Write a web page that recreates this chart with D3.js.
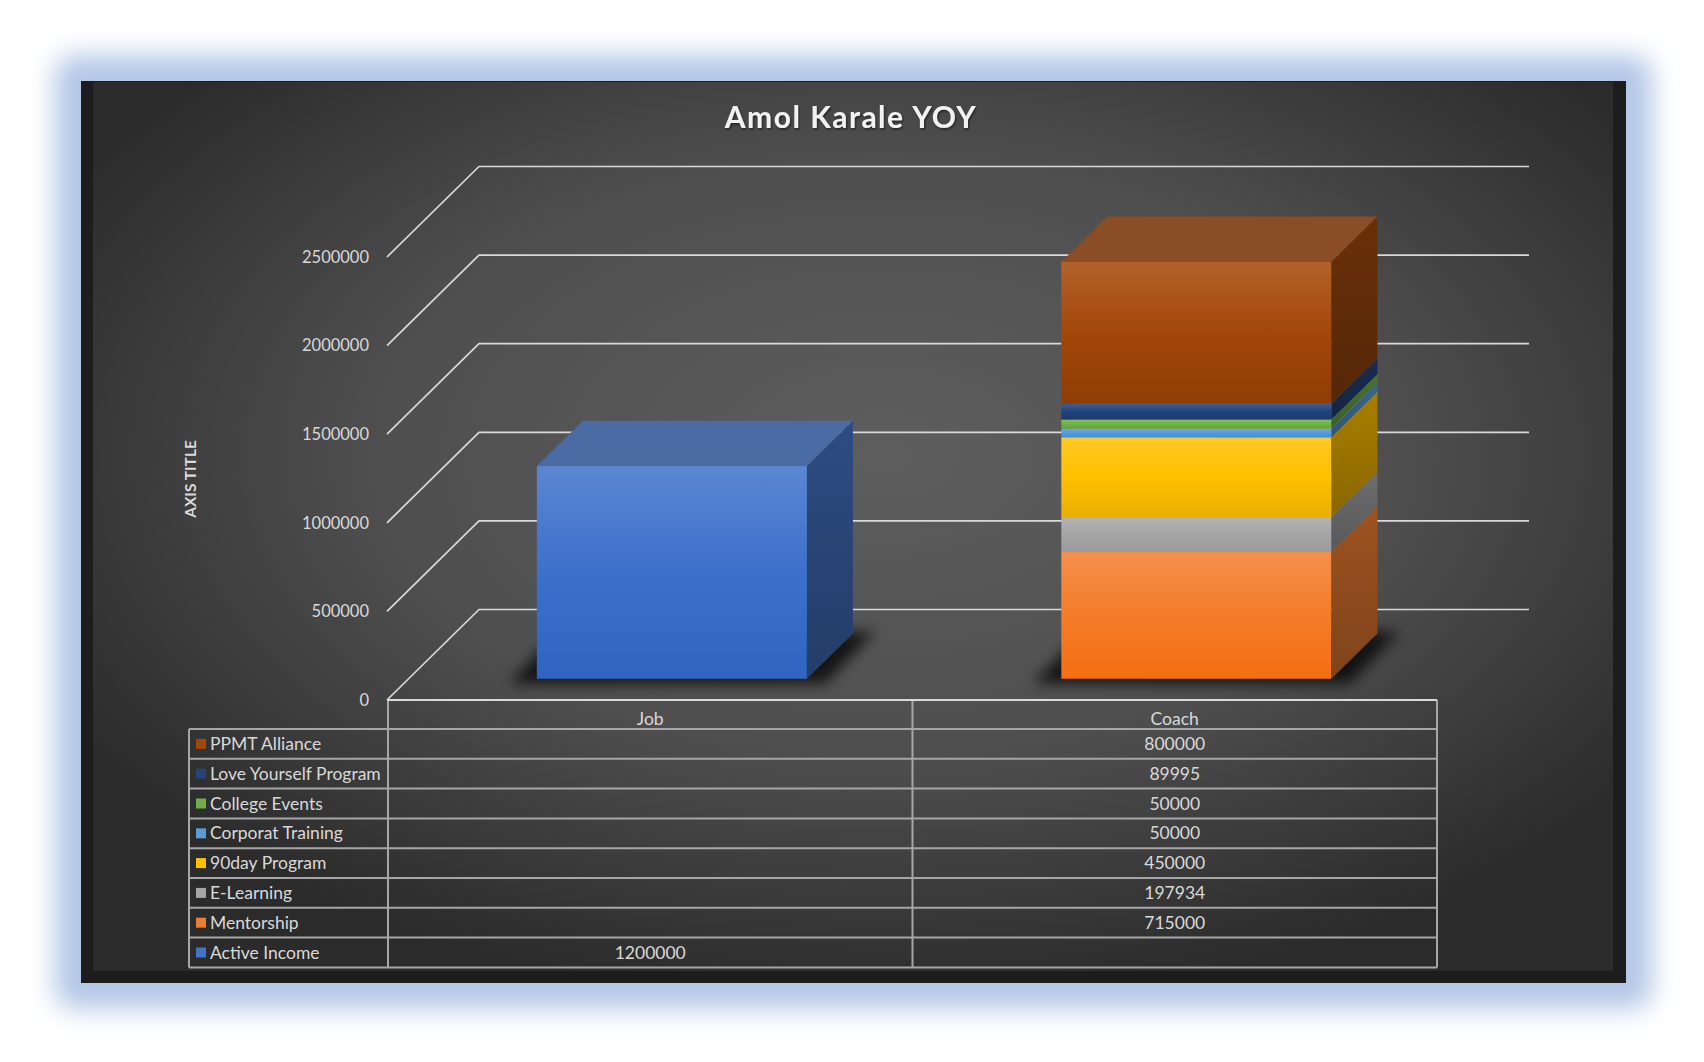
<!DOCTYPE html>
<html>
<head>
<meta charset="utf-8">
<script src="https://cdn.jsdelivr.net/npm/d3@7"></script>
<style>
  body { margin: 0; background: #ffffff; }
  svg { display: block; font-family: Lato, "Open Sans", sans-serif; }
</style>
</head>
<body>
<script>
var categories = ["Job", "Coach"];
var seriesNames = ["Active Income", "Mentorship", "E-Learning", "90day Program", "Corporat Training", "College Events", "Love Yourself Program", "PPMT Alliance"];
var jobValues = [1200000, null, null, null, null, null, null, null];
var coachValues = [null, 715000, 197934, 450000, 50000, 50000, 89995, 800000];
var seriesColors = ["#4472C4", "#ED7D31", "#A5A5A5", "#FFC000", "#5B9BD5", "#70AD47", "#264478", "#9E480E"];
var yTicks = [0, 500000, 1000000, 1500000, 2000000, 2500000];

function tweak(col, ds, dl){
    var h = d3.hsl(col);
    h.s = Math.min(1, h.s + ds);
    h.l = Math.max(0, Math.min(1, h.l + dl));
    return h.formatHex();
}

function init(){
    var width = 1704;
    var height = 1062;
    var svg = d3.select("body")
                .append("svg")
                .attr("width", width)
                .attr("height", height);
    var defs = svg.append("defs");

    // glow + panel
    defs.append("filter").attr("id", "glow").attr("x", "-10%").attr("y", "-10%").attr("width", "120%").attr("height", "120%")
        .append("feGaussianBlur").attr("stdDeviation", 13);
    var bg = defs.append("radialGradient").attr("id", "panelBg")
        .attr("cx", 0.52).attr("cy", 0.42).attr("r", 0.62);
    bg.append("stop").attr("offset", 0).attr("stop-color", "#5e5e5e");
    bg.append("stop").attr("offset", 0.55).attr("stop-color", "#4e4e4e");
    bg.append("stop").attr("offset", 1).attr("stop-color", "#2b2b2b");

    var shadowF = defs.append("filter").attr("id", "barShadow").attr("x", "-20%").attr("y", "-50%").attr("width", "140%").attr("height", "200%");
    shadowF.append("feGaussianBlur").attr("stdDeviation", 7);

    var txtF = defs.append("filter").attr("id", "txtShadow");
    txtF.append("feDropShadow").attr("dx", 1).attr("dy", 1.5).attr("stdDeviation", 1.2)
        .attr("flood-color", "#000").attr("flood-opacity", 0.55);

    svg.append("rect").attr("x", 81 - 26).attr("y", 81 - 26).attr("width", 1545 + 52).attr("height", 902 + 52)
        .attr("rx", 20).attr("fill", "#b4c7e7").attr("filter", "url(#glow)");
    svg.append("rect").attr("x", 81).attr("y", 81).attr("width", 1545).attr("height", 902).attr("fill", "#1d1d1d");
    svg.append("rect").attr("x", 93).attr("y", 82).attr("width", 1520).attr("height", 889).attr("fill", "url(#panelBg)");

    // scales
    var x = d3.scaleBand().domain(categories).range([388, 1437]);
    var y = d3.scaleLinear().domain([0, 2500000]).range([700, 257]);
    var DX = 92, DY = 90.5;
    var z0 = 0.235, z1 = 0.735;
    var barW = x.bandwidth() * 0.515;
    function py(v, z){ return y(v) - z * DY; }

    var grid = svg.append("g").attr("stroke", "#d9d9d9").attr("stroke-width", 1.7).attr("fill", "none");
    yTicks.forEach(function(t){
        grid.append("path").attr("d", "M387," + y(t) + "L" + (387 + DX) + "," + py(t, 1) + "L" + (1437 + DX) + "," + py(t, 1));
    });

    svg.append("g").selectAll("text").data(yTicks).enter().append("text")
        .attr("x", 369).attr("y", function(d){ return y(d); }).attr("dy", "0.35em")
        .attr("text-anchor", "end").attr("font-size", 16.5).attr("fill", "#d9d9d9")
        .text(function(d){ return d; });

    svg.append("text").attr("transform", "translate(196,479) rotate(-90)")
        .attr("text-anchor", "middle").attr("font-size", 15.5).attr("font-weight", "bold")
        .attr("fill", "#d9d9d9").text("AXIS TITLE");

    // stacked data
    var valuesByCat = [jobValues, coachValues];
    var rows = categories.map(function(c, i){
        var r = { category: c };
        seriesNames.forEach(function(s, j){ r[s] = valuesByCat[i][j]; });
        return r;
    });
    var stack = d3.stack().keys(seriesNames).value(function(d, k){ return d[k] || 0; })(rows);

    // gradients per series
    seriesColors.forEach(function(col, i){
        var g = defs.append("linearGradient").attr("id", "front" + i).attr("x1", 0).attr("y1", 0).attr("x2", 0).attr("y2", 1);
        g.append("stop").attr("offset", 0).attr("stop-color", tweak(d3.interpolateRgb(col, "#ffffff")(0.15), 0.05, 0));
        g.append("stop").attr("offset", 0.5).attr("stop-color", tweak(col, 0.06, 0));
        g.append("stop").attr("offset", 1).attr("stop-color", tweak(col, 0.08, -0.045));
        var s = defs.append("linearGradient").attr("id", "side" + i).attr("x1", 0).attr("y1", 0).attr("x2", 0).attr("y2", 1);
        s.append("stop").attr("offset", 0).attr("stop-color", d3.rgb(col).darker(1.15));
        s.append("stop").attr("offset", 1).attr("stop-color", d3.rgb(col).darker(1.75));
    });

    // shadows on floor
    var shadows = svg.append("g").attr("filter", "url(#barShadow)");
    categories.forEach(function(c){
        var xL = x(c) + (x.bandwidth() - barW) / 2 - 26;
        var xR = xL + barW + 46;
        var zf = z0 - 0.02, zb = z1 + 0.02;
        shadows.append("polygon").attr("fill", "#000").attr("opacity", 0.75)
            .attr("points", [
                [xL + zf * DX, py(0, zf) + 3], [xR + zf * DX, py(0, zf) + 3],
                [xR + zb * DX, py(0, zb)], [xL + zb * DX, py(0, zb)]
            ].join(" "));
    });

    // bars
    var bars = svg.append("g");
    stack.forEach(function(layer, i){
        layer.forEach(function(seg, ci){
            var v0 = seg[0], v1 = seg[1];
            if (v1 - v0 <= 0) return;
            var c = categories[ci];
            var xL = x(c) + (x.bandwidth() - barW) / 2;
            var xR = xL + barW;
            var col = seriesColors[i];
            bars.append("rect")
                .attr("x", xL + z0 * DX).attr("y", py(v1, z0))
                .attr("width", barW).attr("height", py(v0, z0) - py(v1, z0))
                .attr("fill", "url(#front" + i + ")");
            bars.append("polygon")
                .attr("points", [
                    [xR + z0 * DX, py(v0, z0)], [xR + z1 * DX, py(v0, z1)],
                    [xR + z1 * DX, py(v1, z1)], [xR + z0 * DX, py(v1, z0)]
                ].join(" "))
                .attr("fill", "url(#side" + i + ")");
            bars.append("polygon")
                .attr("points", [
                    [xL + z0 * DX, py(v1, z0)], [xR + z0 * DX, py(v1, z0)],
                    [xR + z1 * DX, py(v1, z1)], [xL + z1 * DX, py(v1, z1)]
                ].join(" "))
                .attr("fill", d3.interpolateRgb(col, "#5a5a5a")(0.3));
        });
    });

    // data table
    var rowTop = 729, rowH = 29.8;
    var nRows = seriesNames.length;
    var tbl = svg.append("g").attr("stroke", "#a6a6a6").attr("stroke-width", 2).attr("fill", "none");
    for (var r = 0; r <= nRows; r++) {
        tbl.append("line").attr("x1", 189).attr("x2", 1437)
            .attr("y1", rowTop + r * rowH).attr("y2", rowTop + r * rowH);
    }
    tbl.append("line").attr("x1", 189).attr("x2", 189).attr("y1", rowTop).attr("y2", rowTop + nRows * rowH);
    [388, x("Coach"), 1437].forEach(function(xx){
        tbl.append("line").attr("x1", xx).attr("x2", xx).attr("y1", 700).attr("y2", rowTop + nRows * rowH);
    });
    svg.append("line").attr("x1", 387).attr("x2", 1437).attr("y1", 700).attr("y2", 700)
        .attr("stroke", "#d9d9d9").attr("stroke-width", 1.8);

    var txt = svg.append("g").attr("font-size", 17.5).attr("fill", "#d9d9d9");
    categories.forEach(function(c){
        txt.append("text").attr("x", x(c) + x.bandwidth() / 2).attr("y", 719).attr("dy", "0.35em")
            .attr("text-anchor", "middle").text(c);
    });
    for (var k = 0; k < nRows; k++) {
        var s = nRows - 1 - k;
        var cy = rowTop + k * rowH + rowH / 2;
        svg.append("rect").attr("x", 196).attr("y", cy - 5).attr("width", 10).attr("height", 10)
            .attr("fill", seriesColors[s]);
        txt.append("text").attr("x", 210).attr("y", cy).attr("dy", "0.35em").text(seriesNames[s]);
        categories.forEach(function(c, ci){
            var v = valuesByCat[ci][s];
            if (v == null) return;
            txt.append("text").attr("x", x(c) + x.bandwidth() / 2).attr("y", cy).attr("dy", "0.35em")
                .attr("text-anchor", "middle").text(v);
        });
    }

    svg.append("text").attr("x", 851).attr("y", 128)
        .attr("text-anchor", "middle").attr("font-size", 30).attr("font-weight", "bold")
        .attr("letter-spacing", 1.5).attr("fill", "#f2f2f2").attr("filter", "url(#txtShadow)")
        .text("Amol Karale YOY");
}

window.onload = init;
</script>
</body>
</html>
